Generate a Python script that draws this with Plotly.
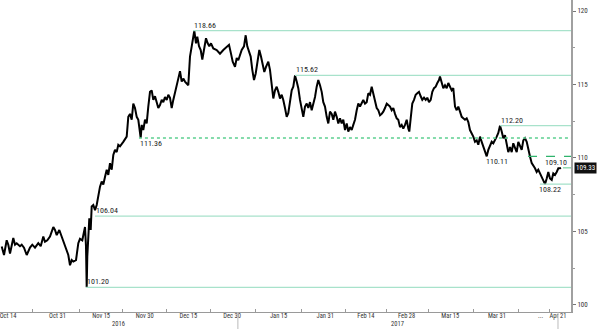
import pandas as pd
import plotly.graph_objects as go

base_date = pd.Timestamp("2016-10-14")

# time (days after Oct 14, 2016) and USD/JPY values
day_offsets = [
    -2.16, -1.37, -0.45, 0.10, 0.69, 1.27, 1.82, 2.41, 2.99, 4.12, 4.71, 5.50, 6.43, 7.56, 8.35, 9.28,
    10.41, 11.24, 12.13, 12.71, 13.51, 14.43, 15.57, 16.15, 16.74, 17.63, 18.45, 19.59, 20.72, 21.31,
    21.89, 22.44, 23.37, 24.16, 24.74, 25.53, 26.12, 26.46, 26.80, 27.04, 27.25, 27.59, 27.94, 28.42,
    28.76, 29.31, 29.90, 30.48, 31.03, 31.62, 32.20, 32.75, 33.33, 33.92, 34.47, 35.05, 35.64, 36.19,
    36.77, 37.35, 37.90, 38.49, 39.62,
    40.79, 41.34, 41.92, 42.51, 43.06, 43.64, 44.23, 44.78, 45.36, 45.60, 45.95, 46.49, 47.08, 47.66,
    48.21, 48.80, 49.38, 49.93, 50.52, 51.10, 51.65, 52.23, 52.82, 53.37, 53.95, 54.54, 55.09, 55.67,
    56.25, 56.80, 57.39, 57.97, 58.52, 59.11, 59.69, 60.24, 60.82, 61.96, 62.54, 63.13, 63.68, 64.02,
    64.60, 65.05, 65.64, 66.22, 66.77, 67.35, 68.04, 68.63, 69.18, 69.76, 70.55, 71.72, 72.85, 73.99,
    75.15, 75.95, 76.63, 77.22, 78.01, 78.59, 79.14, 79.73,
    80.31, 81.10, 81.68, 82.23, 82.82, 83.40, 83.95, 84.54, 85.12, 85.67, 86.36, 86.94, 87.53, 88.08,
    88.66, 89.45, 90.03, 90.62, 91.17, 91.75, 92.34, 92.89, 93.47, 94.05, 94.60, 95.19, 95.77, 96.32,
    96.91, 97.49, 98.04, 98.63, 99.21, 99.76, 100.34, 100.93, 101.48, 102.06, 102.65, 103.20, 103.78,
    104.36, 104.91, 105.50, 106.08, 106.63, 107.22, 107.80, 108.35, 108.93, 109.52, 110.07, 110.65,
    111.24, 111.79, 112.37, 112.96, 113.51, 114.09, 114.67, 115.22, 115.81, 116.39, 116.94, 117.53,
    118.11, 118.66, 119.24, 119.83, 120.38, 120.96,
    121.55, 122.10, 122.68, 123.26, 123.81, 124.40, 124.98, 125.53, 126.12, 126.70, 127.25, 127.84,
    128.42, 128.97, 129.55, 130.14, 130.69, 131.27, 131.86, 132.41, 132.99, 133.57, 134.12, 134.71,
    135.29, 135.84, 136.43, 137.01, 137.56, 137.90, 138.38, 138.93, 139.52, 140.10, 140.65, 141.24,
    141.82, 142.37, 142.96, 143.54, 144.09, 144.67, 145.26, 145.81, 146.39, 146.98, 147.53, 148.11,
    148.45, 149.04, 149.59, 150.17, 150.76, 151.31, 151.89, 152.47, 153.02, 153.61, 154.19, 154.74,
    155.33, 155.91, 156.46, 157.04, 157.63, 158.18, 158.76,
    159.35, 159.90, 160.48, 161.07, 161.62, 162.20, 162.78, 163.33, 163.92, 164.50, 165.05, 165.64,
    166.22, 166.77, 167.35, 167.94, 168.49, 169.07, 169.66, 170.21, 170.79, 171.37, 171.92, 172.51,
    173.09, 173.64, 174.23, 174.81, 175.36, 175.95, 176.53, 177.08, 177.66, 178.25, 178.80, 179.38,
    179.97, 180.52, 181.10, 181.68, 182.23, 182.82, 183.40, 183.95, 184.54, 185.12, 185.67, 186.25,
    186.84, 187.39, 187.97, 188.56, 189.12, 189.69, 190.03,
]
usdjpy = [
    103.97, 103.4, 104.4, 104.1, 103.5, 104.2, 104.55, 104.1, 104.2, 104.0, 104.1, 103.9, 103.4, 103.9,
    104.1, 103.9, 104.2, 104.0, 104.65, 104.3, 104.4, 104.65, 105.3, 105.1, 104.75, 105.1, 104.65,
    104.1, 103.4, 102.7, 103.05, 102.95, 103.05, 104.2, 104.5, 104.4, 104.85, 105.3, 104.0, 101.2,
    103.3, 105.3, 105.9, 105.1, 106.7, 106.8, 106.45, 106.8, 107.5, 108.05, 108.4, 108.2, 108.7, 109.2,
    108.85, 109.65, 109.2, 110.2, 110.55, 110.4, 110.9, 110.8, 111.1,
    111.45, 112.8, 113.0, 112.6, 113.7, 113.4, 112.8, 112.6, 111.9, 111.36, 112.25, 111.9, 112.6,
    112.35, 113.5, 114.5, 114.6, 113.95, 114.2, 113.7, 113.4, 113.6, 113.95, 113.8, 114.15, 113.95,
    114.3, 114.1, 113.4, 113.95, 114.5, 115.1, 115.4, 115.9, 115.2, 115.4, 115.2, 114.95, 116.9, 117.6,
    118.5, 118.66, 117.8, 118.25, 117.6, 117.35, 116.7, 117.35, 118.15, 117.8, 117.6, 117.8, 117.45,
    117.35, 117.1, 117.35, 117.6, 117.7, 117.1, 116.55, 116.2, 116.8, 116.65, 117.1,
    117.35, 117.6, 118.35, 117.6, 117.25, 116.9, 116.0, 115.3, 115.75, 116.55, 117.35, 116.9, 116.2,
    115.85, 116.2, 116.55, 116.0, 114.95, 114.05, 114.6, 114.85, 114.5, 114.05, 114.3, 113.95, 113.4,
    112.8, 113.05, 113.7, 114.6, 114.85, 115.62, 115.2, 114.75, 113.95, 113.25, 112.8, 113.5, 113.7,
    113.4, 113.8, 113.25, 113.7, 114.15, 114.85, 115.3, 114.95, 114.5, 113.8, 113.5, 112.8, 112.35,
    113.15, 113.0, 112.6, 113.15, 112.8, 112.35, 112.7, 112.35, 112.6, 111.9, 112.35, 111.8, 112.1,
    111.9, 112.25, 112.6, 113.25, 113.7, 113.5,
    113.8, 113.95, 113.7, 113.8, 114.4, 114.3, 114.85, 114.4, 113.8, 113.4, 113.25, 112.9, 113.0,
    113.15, 113.4, 113.7, 113.6, 113.5, 113.25, 113.4, 113.0, 112.7, 112.6, 112.1, 112.25, 112.0,
    112.25, 112.6, 112.0, 111.8, 112.7, 113.7, 113.95, 114.3, 114.4, 114.5, 114.2, 113.95, 114.1,
    113.95, 114.1, 113.8, 113.95, 114.5, 114.75, 114.85, 115.1, 115.3, 115.55, 115.1, 114.75, 114.95,
    114.75, 115.1, 114.85, 114.6, 114.75, 113.5, 113.25, 113.5, 113.15, 112.8, 112.7, 112.6, 112.7,
    112.45, 111.9,
    111.7, 111.45, 111.1, 111.2, 110.9, 111.45, 111.1, 110.75, 110.4, 110.11, 110.55, 110.9, 111.1,
    111.0, 111.2, 111.45, 111.7, 112.2, 111.8, 111.35, 111.55, 111.0, 110.4, 110.75, 110.4, 111.0,
    110.65, 110.4, 111.1, 110.75, 110.55, 111.2, 111.35, 111.1, 110.55, 110.1, 109.65, 109.5, 109.3,
    109.05, 109.2, 108.95, 108.7, 108.4, 108.22, 108.6, 109.05, 108.6, 108.5, 108.95, 108.85, 109.05,
    109.3, 109.3, 109.33,
]

tick_dates = ["2016-10-14", "2016-10-31", "2016-11-15", "2016-11-30", "2016-12-15", "2016-12-30",
              "2017-01-15", "2017-01-31", "2017-02-14", "2017-02-28", "2017-03-15", "2017-03-31",
              "2017-04-15", "2017-04-21"]
tick_labels = ["Oct 14", "Oct 31", "Nov 15", "Nov 30", "Dec 15", "Dec 30", "Jan 15", "Jan 31",
               "Feb 14", "Feb 28", "Mar 15", "Mar 31", "...", "Apr 21"]
y_ticks = [100, 105, 110, 115, 120]
y_minor = [102.5, 107.5, 112.5, 117.5]

# key levels: value, label text, start offset (days), line start offset (days)
levels = [118.66, 115.62, 112.20, 111.36, 110.11, 108.22, 106.04, 101.20]
level_labels = ["118.66", "115.62", "112.20", "111.36", "110.11", "108.22", "106.04", "101.20"]
level_label_offsets = [63.57, 98.63, 169.07, 45.0, 163.9, 182.1, 29.9, 26.8]
level_line_offsets = [63.57, 98.63, 169.07, 45.0, 178.7, 182.8, 29.9, 26.8]
level_above = [True, True, True, False, False, False, True, True]
level_dash = ["solid", "solid", "solid", "dot", "dash", "solid", "solid", "solid"]
level_color = ["#a8e2cb", "#a8e2cb", "#a8e2cb", "#5ccf90", "#2fb36c", "#a8e2cb", "#a8e2cb", "#a8e2cb"]

last_value = usdjpy[-1]
last_label = "109.10"
year_break = pd.Timestamp("2017-01-01")
data_end = pd.Timestamp("2017-04-21")

dates = base_date + pd.to_timedelta(day_offsets, unit="D")
x_start = base_date + pd.to_timedelta(-2.749, unit="D")
x_end = base_date + pd.to_timedelta(193.47, unit="D")

minor_vals = [pd.Timestamp(a) + (pd.Timestamp(b) - pd.Timestamp(a)) / 2
              for a, b in zip(tick_dates[:-1], tick_dates[1:])]

fig = go.Figure()
fig.add_trace(go.Scatter(x=dates, y=usdjpy, mode="lines",
                         line=dict(color="#000000", width=2), hoverinfo="skip"))

font_family = "Liberation Sans Narrow, Roboto Condensed, DejaVu Sans Condensed, Liberation Sans, Arial"

for val, txt, lo, li, above, dash, col in zip(levels, level_labels, level_label_offsets,
                                             level_line_offsets, level_above, level_dash, level_color):
    fig.add_shape(type="line", xref="x", yref="y",
                  x0=base_date + pd.to_timedelta(li, unit="D"), x1=x_end, y0=val, y1=val,
                  line=dict(color=col, width=1.3, dash=dash))
    fig.add_annotation(x=base_date + pd.to_timedelta(lo, unit="D"), y=val, text=txt,
                       xref="x", yref="y", showarrow=False, xanchor="left",
                       yanchor="bottom" if above else "top", borderpad=0,
                       font=dict(size=8, color="#222", family=font_family))

# last price marker
fig.add_shape(type="line", xref="x", yref="y",
              x0=base_date + pd.to_timedelta(190.7, unit="D"), x1=x_end,
              y0=last_value, y1=last_value, line=dict(color="#7fd6a6", width=1.3, dash="dash"))
fig.add_annotation(x=base_date + pd.to_timedelta(184.2, unit="D"), y=last_value, text=last_label,
                   xref="x", yref="y", showarrow=False, xanchor="left", yanchor="bottom",
                   borderpad=0, font=dict(size=8, color="#222", family=font_family))
fig.add_annotation(x=1, y=last_value, xref="paper", yref="y", text=f"{last_value:.2f}",
                   showarrow=False, xanchor="left", yanchor="middle", xshift=3,
                   bgcolor="#111111", borderpad=1,
                   font=dict(size=7, color="#ffffff", family=font_family))

# year separators and labels
for sep in [year_break, data_end]:
    fig.add_shape(type="line", xref="x", yref="paper", x0=sep, x1=sep, y0=0, y1=-0.055,
                  line=dict(color="#bbbbbb", width=1))
for label, a, b in [("2016", x_start, year_break), ("2017", year_break, data_end)]:
    fig.add_annotation(x=a + (b - a) / 2, y=-0.038, xref="x", yref="paper", text=label,
                       showarrow=False, yanchor="middle", borderpad=0,
                       font=dict(size=6.5, color="#333", family=font_family))

fig.update_layout(
    width=600, height=329,
    margin=dict(l=0, r=29, t=0, b=17),
    paper_bgcolor="white", plot_bgcolor="white",
    showlegend=False,
    xaxis=dict(range=[x_start, x_end], tickmode="array", tickvals=tick_dates, ticktext=tick_labels,
               showgrid=False, zeroline=False, showline=True, linecolor="#9a9a9a", linewidth=1,
               ticks="", ticklabelstandoff=-3, ticklabeloverflow="allow",
               tickfont=dict(size=6.5, color="#333", family=font_family),
               minor=dict(tickmode="array", tickvals=minor_vals, ticks="inside", ticklen=3,
                          tickcolor="#9a9a9a", showgrid=False)),
    yaxis=dict(side="right", range=[99.52, 120.75], tickmode="array", tickvals=y_ticks,
               showgrid=False, zeroline=False, showline=True, linecolor="#a0a0a0", linewidth=2,
               ticks="outside", ticklen=3, tickcolor="#777",
               tickfont=dict(size=7, color="#333", family=font_family),
               minor=dict(tickmode="array", tickvals=y_minor, ticks="outside", ticklen=2,
                          tickcolor="#999", showgrid=False)),
)

fig.write_html("out.html")
